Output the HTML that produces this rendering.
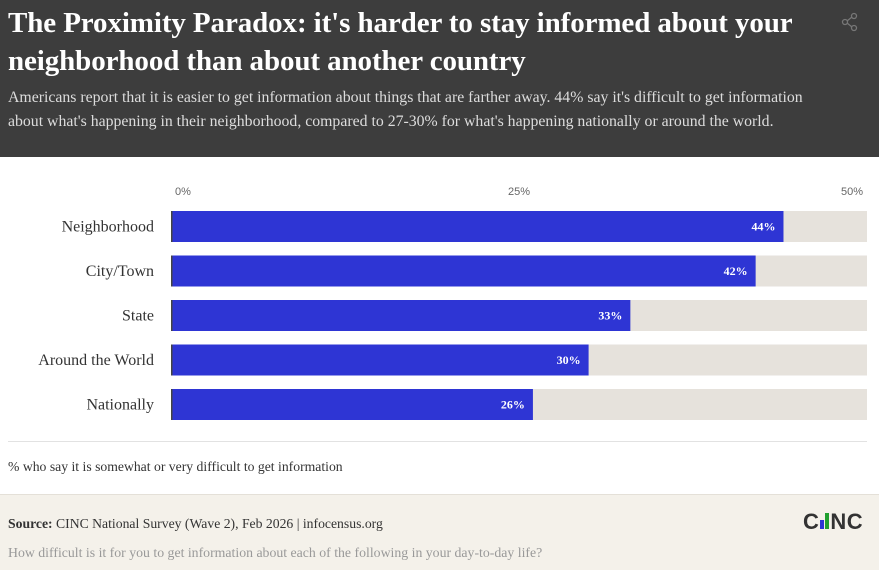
<!DOCTYPE html>
<html><head><meta charset="utf-8"><style>
body{margin:0;width:879px;height:569px;overflow:hidden;background:#fff;font-family:"Liberation Serif",serif;position:relative}
.hdr{position:absolute;left:0;top:0;width:879px;height:157px;background:#3d3d3d}
.title{position:absolute;left:8px;top:4px;color:#fff;font-weight:bold;font-size:29px;line-height:38px;letter-spacing:-0.1px}
.sub{position:absolute;left:8px;top:86px;color:#ddd;font-size:15.8px;line-height:24px}
.foot{position:absolute;left:0;top:494px;width:879px;height:75px;background:#f4f1ea;border-top:1px solid #e4e0d8}
</style></head><body>
<div class="hdr">
<div class="title">The Proximity Paradox: it's harder to stay informed about your<br>neighborhood than about another country</div>
<div class="sub">Americans report that it is easier to get information about things that are farther away. 44% say it's difficult to get information<br>about what's happening in their neighborhood, compared to 27-30% for what's happening nationally or around the world.</div>
<svg style="position:absolute;left:840px;top:12px" width="20" height="20"><g stroke="#777" fill="none" stroke-width="1.3"><circle cx="14" cy="4" r="2.5"/><circle cx="5" cy="10" r="2.5"/><circle cx="14" cy="16" r="2.5"/><line x1="7" y1="9" x2="12" y2="5"/><line x1="7" y1="11" x2="12" y2="15"/></g></svg>
</div>
<svg id="chart" style="position:absolute;left:0;top:157px" width="879" height="337"></svg>
<div style="position:absolute;left:8px;top:441px;width:859px;height:1px;background:#e2e2e2"></div>
<div style="position:absolute;left:8px;top:459px;font-size:13.7px;color:#333">% who say it is somewhat or very difficult to get information</div>
<div class="foot">
<div style="position:absolute;left:8px;top:21px;font-size:13.7px;color:#333"><b>Source:</b> CINC National Survey (Wave 2), Feb 2026 | infocensus.org</div>
<div style="position:absolute;left:8px;top:50px;font-size:13.8px;color:#999">How difficult is it for you to get information about each of the following in your day-to-day life?</div>
<div style="position:absolute;left:803px;top:14px;font-family:'Liberation Sans',sans-serif;font-weight:bold;font-size:22px;color:#333;letter-spacing:0.5px">C<span style="display:inline-block;width:4px;height:9px;background:#2e35d4;margin:0 1px"></span><span style="display:inline-block;width:4px;height:16px;background:#20a030;margin-right:1px"></span>NC</div>
</div>
<script>
const categories=["Neighborhood","City/Town","State","Around the World","Nationally"];
const values=[44,42,33,30,26];
const valueLabels=["44%","42%","33%","30%","26%"];
const ticks=[0,25,50];
const tickLabels=["0%","25%","50%"];
const NS="http://www.w3.org/2000/svg";
const svg=document.getElementById("chart");
const x0=171,x1=867,max=50;
const xs=v=>x0+(x1-x0)*v/max;
const yTop=54,step=44.5,bh=31;
function mk(t,a){const e=document.createElementNS(NS,t);for(const k in a)e.setAttribute(k,a[k]);svg.appendChild(e);return e;}
ticks.forEach((t,i)=>{
const tx=mk("text",{x:i==0?xs(t)+4:(i==ticks.length-1?xs(t)-4:xs(t)),y:38,"font-size":11,fill:"#666","font-family":"Liberation Sans,sans-serif","text-anchor":i==0?"start":(i==ticks.length-1?"end":"middle")});
tx.textContent=tickLabels[i];


});
categories.forEach((c,i)=>{
const y=yTop+i*step;
const tr=mk("rect",{x:x0,y:y,width:x1-x0,height:bh,fill:"#e6e2dc"});


const b=mk("rect",{x:x0,y:y,width:xs(values[i])-x0,height:bh,fill:"#2e35d4"});


const ed=mk("rect",{x:x0,y:y,width:1.5,height:bh,fill:"#444"});


const l=mk("text",{x:154,y:y+bh/2+5,"font-size":16,fill:"#333","text-anchor":"end"});
l.textContent=c;


const v=mk("text",{x:xs(values[i])-8,y:y+bh/2+4,"font-size":12,"font-weight":"bold",fill:"#fff","text-anchor":"end"});
v.textContent=valueLabels[i];


});
</script>
</body></html>
